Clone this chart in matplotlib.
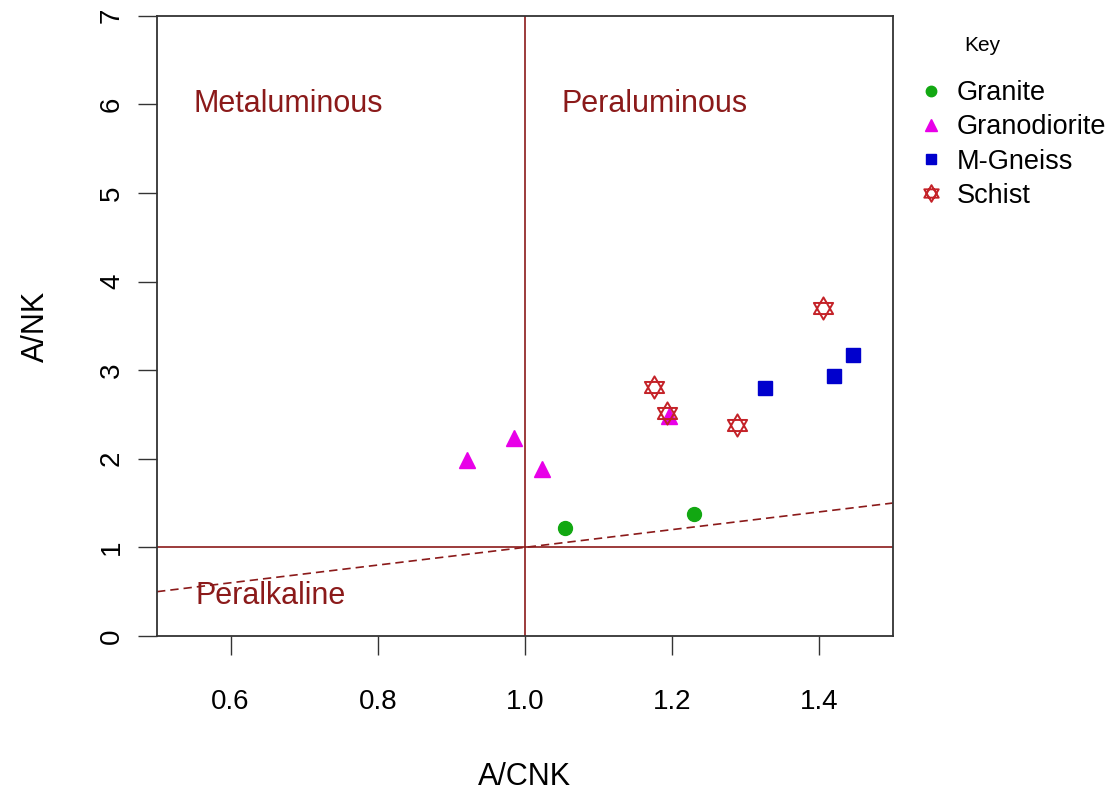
#!/usr/bin/env python3
# Shand index plot: A/NK vs A/CNK for the sampled rock types
import matplotlib
matplotlib.use('AGG')
import matplotlib.pyplot as plt
from matplotlib.path import Path

plt.rcParams['font.family'] = ['Liberation Sans', 'DejaVu Sans']

# sample values (A/CNK, A/NK)
granite_acnk = [1.054, 1.230]
granite_ank = [1.22, 1.38]

granodiorite_acnk = [0.921, 0.985, 1.024, 1.196]
granodiorite_ank = [1.99, 2.24, 1.89, 2.48]

gneiss_acnk = [1.326, 1.421, 1.446]
gneiss_ank = [2.80, 2.93, 3.17]

schist_acnk = [1.175, 1.193, 1.289, 1.405]
schist_ank = [2.81, 2.52, 2.38, 3.70]

# peralkaline boundary
bound_x = [0.5, 1.5]
bound_y = [0.5, 1.5]

x_ticks = [0.6, 0.8, 1.0, 1.2, 1.4]
y_ticks = [0, 1, 2, 3, 4, 5, 6, 7]

DARKRED = '#8B1A1A'

# star of david marker: two overlapping triangles
s = 0.866
hexagram = Path(
	[(0, 1), (-s, -0.5), (s, -0.5), (0, 1),
	 (0, -1), (-s, 0.5), (s, 0.5), (0, -1)],
	[Path.MOVETO, Path.LINETO, Path.LINETO, Path.CLOSEPOLY,
	 Path.MOVETO, Path.LINETO, Path.LINETO, Path.CLOSEPOLY])

fig = plt.figure(figsize=(11.06, 7.90), dpi=100)
ax = fig.add_axes([0.142, 0.195, 0.665, 0.785])

ax.axvline(1.0, color=DARKRED, lw=1.2, zorder=1)
ax.axhline(1.0, color=DARKRED, lw=1.2, zorder=1)
ax.plot(bound_x, bound_y, color=DARKRED, lw=1.2, ls=(0, (5, 3)), zorder=1)

ax.plot(granite_acnk, granite_ank, 'o', ms=10, color='#12A812', mec='#12A812',
		ls='none', label='Granite', zorder=3)
ax.plot(granodiorite_acnk, granodiorite_ank, '^', ms=12, color='#E800E8',
		mec='#E800E8', ls='none', label='Granodiorite', zorder=3)
ax.plot(gneiss_acnk, gneiss_ank, 's', ms=10, color='#0000CD', mec='#0000CD',
		ls='none', label='M-Gneiss', zorder=3)
ax.plot(schist_acnk, schist_ank, marker=hexagram, ms=16, mfc='none',
		mec='#C42228', mew=1.4, ls='none', label='Schist', zorder=4)

ax.text(0.679, 6.0, 'Metaluminous', color=DARKRED, fontsize=22,
		ha='center', va='center')
ax.text(1.177, 6.0, 'Peraluminous', color=DARKRED, fontsize=22,
		ha='center', va='center')
ax.text(0.654, 0.45, 'Peralkaline', color=DARKRED, fontsize=22,
		ha='center', va='center')

ax.set_xlim(0.5, 1.5)
ax.set_ylim(0, 7)
ax.set_xticks(x_ticks)
ax.set_xticklabels(['%.1f' % v for v in x_ticks])
ax.set_yticks(y_ticks)
ax.tick_params(axis='both', direction='out', length=14, width=1.0,
			   color='#333333', labelsize=20)
ax.tick_params(axis='x', pad=24)
ax.tick_params(axis='y', pad=9, labelrotation=90)
for lbl in ax.get_yticklabels():
	lbl.set_va('center')

for sp in ax.spines.values():
	sp.set_color('#333333')
	sp.set_linewidth(1.3)

ax.set_xlabel('A/CNK', fontsize=22, labelpad=34)
ax.set_ylabel('A/NK', fontsize=22, labelpad=35)

ax.legend(loc='upper left', bbox_to_anchor=(0.820, 0.912),
		  bbox_transform=fig.transFigure, frameon=False, fontsize=19.5,
		  handlelength=1.0, handletextpad=0.45, labelspacing=0.3,
		  borderaxespad=0, markerscale=0.75)
fig.text(0.888, 0.942, 'Key', fontsize=15, ha='center', va='center')

plt.savefig('out.png', dpi=100)
